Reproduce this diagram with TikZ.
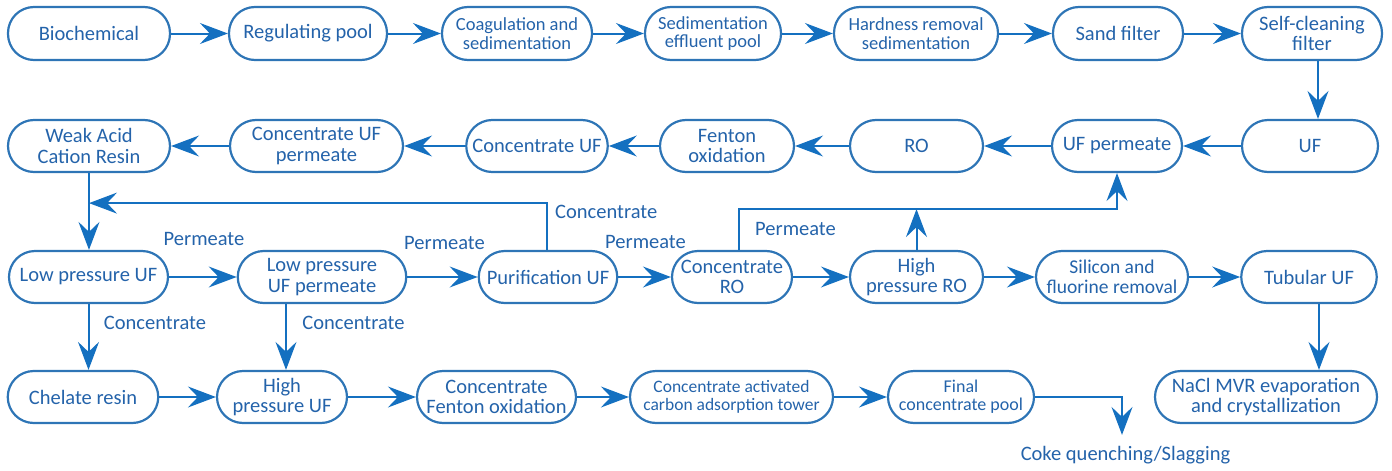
\documentclass[tikz,border=0pt]{standalone}
\usepackage{fontspec}
\setmainfont{Carlito}
\usetikzlibrary{arrows.meta,calc}
\definecolor{arrc}{RGB}{20,112,192}
\definecolor{boxc}{RGB}{46,117,182}
\definecolor{txtc}{RGB}{36,99,170}
\newcommand\fsz[1]{\fontsize{#1}{#1}\selectfont}
\tikzset{
  box/.style={draw=boxc, line width=2.2pt, rounded corners=26pt, minimum height=52pt,
    inner sep=0pt, align=center, text=txtc, font=\fsz{20.5}},
  arr/.style={draw=arrc, line width=2pt, -{Stealth[length=28pt,width=21pt,inset=10pt]}},
  lbl/.style={text=txtc, font=\fsz{20.5}, inner sep=0pt}
}
\begin{document}
\begin{tikzpicture}[x=1pt,y=-1pt]
\useasboundingbox (0,0) rectangle (1392,471);
% Row 1
\node[box, minimum width=162pt, minimum height=53pt] (bio) at (89,33.5) {Biochemical};
\node[box, minimum width=158pt, minimum height=53pt] (reg) at (308,33.5) {Regulating pool};
\node[box, minimum width=150pt, minimum height=53pt, font=\fsz{18.5}] (coag) at (517,33.5) {Coagulation and\\sedimentation};
\node[box, minimum width=136pt, minimum height=53pt, font=\fsz{18.5}] (sedp) at (713,33.5) {Sedimentation\\effluent pool};
\node[box, minimum width=164pt, minimum height=53pt, font=\fsz{18.5}] (hard) at (916,33.5) {Hardness removal\\sedimentation};
\node[box, minimum width=130pt, minimum height=53pt] (sand) at (1118,33.5) {Sand filter};
\node[box, minimum width=140pt, minimum height=53pt] (selfc) at (1312,33.5) {Self-cleaning\\filter};
% Row 2
\node[box, minimum width=162pt] (war) at (89,146) {Weak Acid\\Cation Resin};
\node[box, minimum width=173pt] (cufp) at (316.5,146) {Concentrate UF\\permeate};
\node[box, minimum width=141.5pt] (cuf) at (537,146) {Concentrate UF};
\node[box, minimum width=134pt] (fen) at (727,146) {Fenton\\oxidation};
\node[box, minimum width=133pt] (ro) at (916.5,146) {RO};
\node[box, minimum width=130pt] (ufp) at (1117,146) {UF permeate};
\node[box, minimum width=136pt] (uf) at (1310,146) {UF};
% Row 3
\node[box, minimum width=159pt] (lpuf) at (88.5,277) {Low pressure UF};
\node[box, minimum width=168.5pt] (lpufp) at (322,277) {Low pressure\\UF permeate};
\node[box, minimum width=138.5pt] (puf) at (548,277) {Purification UF};
\node[box, minimum width=120pt] (cro) at (732,277) {Concentrate\\RO};
\node[box, minimum width=133pt] (hpro) at (916.5,277) {High\\pressure RO};
\node[box, minimum width=152pt, font=\fsz{19.5}] (sif) at (1112,277) {Silicon and\\fluorine removal};
\node[box, minimum width=135.5pt] (tuf) at (1309,277) {Tubular UF};
% Row 4
\node[box, minimum width=150.5pt] (chel) at (83,397) {Chelate resin};
\node[box, minimum width=130pt] (hpuf) at (282,397) {High\\pressure UF};
\node[box, minimum width=159pt] (cfen) at (496.5,397) {Concentrate\\Fenton oxidation};
\node[box, minimum width=203pt, font=\fsz{17.5}] (cac) at (731.5,397) {Concentrate activated\\carbon adsorption tower};
\node[box, minimum width=146pt, font=\fsz{18}] (fin) at (961,397) {Final\\concentrate pool};
\node[box, minimum width=222pt] (nacl) at (1266,397) {NaCl MVR evaporation\\and crystallization};
\node[lbl] (coke) at (1125.5,455) {Coke quenching/Slagging};
% Labels
\node[lbl] (lp1) at (204,239) {Permeate};
\node[lbl] (lp2) at (444.5,243) {Permeate};
\node[lbl] (lp3) at (645.5,242) {Permeate};
\node[lbl] (lp4) at (795.5,229) {Permeate};
\node[lbl, anchor=west] (lc1) at (555,212) {Concentrate};
\node[lbl] (lc2) at (155,323) {Concentrate};
\node[lbl] (lc3) at (353.5,323) {Concentrate};
% Row 1 arrows
\draw[arr] (bio.east) -- (reg.west);
\draw[arr] (reg.east) -- (coag.west);
\draw[arr] (coag.east) -- (sedp.west);
\draw[arr] (sedp.east) -- (hard.west);
\draw[arr] (hard.east) -- (sand.west);
\draw[arr] (sand.east) -- (selfc.west);
\draw[arr] ([xshift=6pt]selfc.south) -- ([xshift=6pt]selfc.south |- uf.north);
% Row 2 arrows
\draw[arr] (uf.west) -- (ufp.east);
\draw[arr] (ufp.west) -- (ro.east);
\draw[arr] (ro.west) -- (fen.east);
\draw[arr] (fen.west) -- (cuf.east);
\draw[arr] (cuf.west) -- (cufp.east);
\draw[arr] (cufp.west) -- (war.east);
\draw[arr] (war.south) -- (war.south |- lpuf.north);
% Concentrate return
\path (war.south) ++(0,30) coordinate (j1);
\draw[arr] ([xshift=-1pt]puf.north) |- (j1);
% Row 3 arrows
\draw[arr] (lpuf.east) -- (lpufp.west);
\draw[arr] (lpufp.east) -- (puf.west);
\draw[arr] (puf.east) -- (cro.west);
\draw[arr] (cro.east) -- (hpro.west);
\draw[arr] (hpro.east) -- (sif.west);
\draw[arr] (sif.east) -- (tuf.west);
% Permeate to UF permeate
\path (ufp.south) ++(0,36) coordinate (j2);
\draw[arr] ([xshift=7pt]cro.north) |- (j2) -- (ufp.south);
\draw[arr] (hpro.north) -- (hpro.north |- j2);
% Row 3 to 4
\draw[arr] (lpuf.south) -- (lpuf.south |- chel.north);
\draw[arr] ([xshift=4pt]hpuf.north |- lpufp.south) -- ([xshift=4pt]hpuf.north);
\draw[arr] ([xshift=10pt]tuf.south) -- ([xshift=10pt]tuf.south |- nacl.north);
% Row 4 arrows
\draw[arr] (chel.east) -- (hpuf.west);
\draw[arr] (hpuf.east) -- (cfen.west);
\draw[arr] (cfen.east) -- (cac.west);
\draw[arr] (cac.east) -- (fin.west);
\path (coke.north) ++(-3.5,-11) coordinate (cend);
\draw[arr] (fin.east) -| (cend);
\end{tikzpicture}
\end{document}
